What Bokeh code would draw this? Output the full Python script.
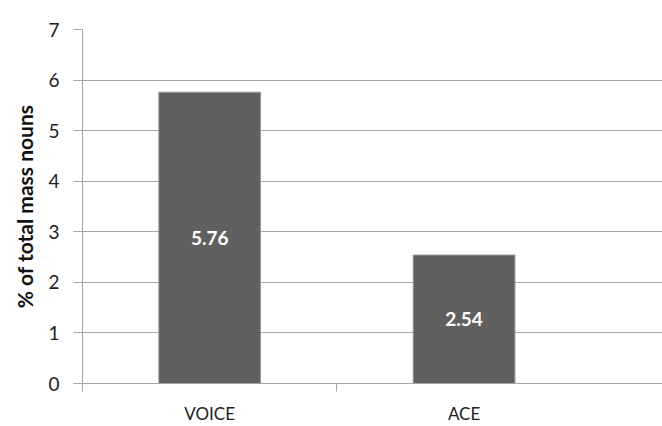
from bokeh.plotting import figure
from bokeh.models import Range1d, FixedTicker, ColumnDataSource, LinearAxis
from bokeh.core.properties import value
from bokeh.embed import file_html
from bokeh.resources import INLINE

categories = ["VOICE", "ACE"]
values = [5.76, 2.54]
value_labels = ["5.76", "2.54"]
y_ticks = [0, 1, 2, 3, 4, 5, 6, 7]
y_label = "% of total mass nouns"

FONT = "Lato"
x_pos = [i + 0.5 for i in range(len(categories))]
src = ColumnDataSource(dict(x=x_pos, top=values, mid=[v / 2 for v in values],
                            lab=value_labels, cat=categories))

p = figure(width=662, height=426, output_backend="svg", toolbar_location=None,
           x_range=Range1d(0, 2.28), y_range=Range1d(0, 7),
           min_border_left=82, min_border_top=29, min_border_right=0,
           min_border_bottom=42, x_axis_location=None)
p.outline_line_color = None
p.background_fill_color = "white"
p.border_fill_color = "white"

p.vbar(x="x", top="top", bottom=0, width=0.4, source=src,
       fill_color="#606060", line_color="#9a9a9a", line_width=1)
p.text(x="x", y="mid", text="lab", source=src, text_align="center",
       text_baseline="middle", text_color="white", text_font=value(FONT),
       text_font_style="bold", text_font_size="19px")

# grid
p.xgrid.visible = False
p.ygrid.ticker = FixedTicker(ticks=y_ticks)
p.ygrid.grid_line_color = "#a6a6a6"
p.ygrid.grid_line_width = 1

# y axis
ya = p.yaxis[0]
ya.ticker = FixedTicker(ticks=y_ticks)
ya.axis_line_color = "#a6a6a6"
ya.major_tick_line_color = "#a6a6a6"
ya.major_tick_out = 9
ya.major_tick_in = 0
ya.minor_tick_line_color = None
ya.major_label_text_font = FONT
ya.major_label_text_font_size = "19px"
ya.major_label_text_color = "#222222"
ya.major_label_standoff = 14
ya.axis_label = y_label
ya.axis_label_text_font = FONT
ya.axis_label_text_font_style = "bold"
ya.axis_label_text_font_size = "21px"
ya.axis_label_text_color = "#111111"
ya.axis_label_standoff = 8

# x axis: labels at category centers, ticks at boundaries
xa = LinearAxis(ticker=FixedTicker(ticks=x_pos, minor_ticks=[0, 1]))
xa.major_label_overrides = {x: c for x, c in zip(x_pos, categories)}
xa.axis_line_color = "#a6a6a6"
xa.major_tick_line_color = None
xa.minor_tick_line_color = "#a6a6a6"
xa.minor_tick_out = 8
xa.minor_tick_in = 0
xa.major_label_text_font = FONT
xa.major_label_text_font_size = "17px"
xa.major_label_text_color = "#222222"
xa.major_label_standoff = 11
p.add_layout(xa, "below")

open("out.html", "w").write(file_html(p, INLINE))
